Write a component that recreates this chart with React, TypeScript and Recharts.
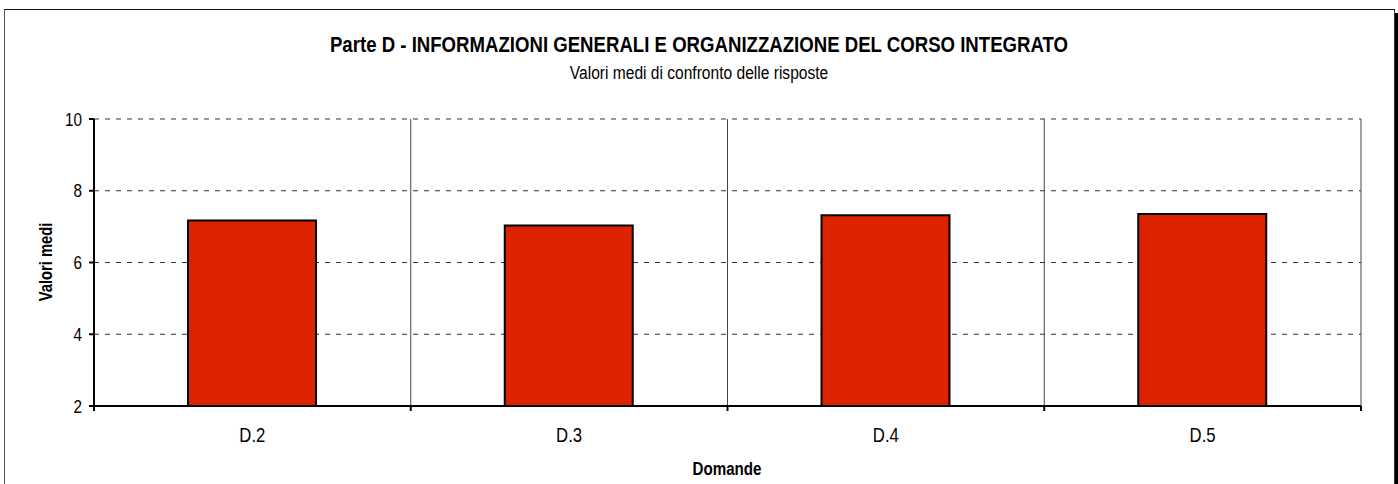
import React from "react";
import { BarChart, Bar, XAxis, YAxis, CartesianGrid } from "recharts";

const categories = ["D.2", "D.3", "D.4", "D.5"];
const values = [7.17, 7.03, 7.32, 7.35];
const yTicks = [2, 4, 6, 8, 10];
const boundaryTicks = [0, 1, 2, 3, 4];

const title = "Parte D - INFORMAZIONI GENERALI E ORGANIZZAZIONE DEL CORSO INTEGRATO";
const subtitle = "Valori medi di confronto delle risposte";
const yTitle = "Valori medi";
const xTitle = "Domande";

// pos = centre of each category slot on the auxiliary numeric axis (slot i spans [i, i+1])
const data = categories.map((c, i) => ({ cat: c, pos: i + 0.5, value: values[i] }));

const FONT = "'Liberation Sans', Arial, Helvetica, sans-serif";
const SX = 0.82;

const XTick = (props: any) => {
  const { x, y, payload } = props;
  return (
    <text
      transform={`translate(${x},${y + 35}) scale(${SX},1)`}
      textAnchor="middle"
      fontFamily={FONT}
      fontSize={20.4}
      fill="#000"
    >
      {payload.value}
    </text>
  );
};

const YTick = (props: any) => {
  const { x, y, payload } = props;
  return (
    <text
      transform={`translate(${x - 5},${y + 6.5}) scale(${SX},1)`}
      textAnchor="end"
      fontFamily={FONT}
      fontSize={18.6}
      fill="#000"
    >
      {payload.value}
    </text>
  );
};

export default function App() {
  return (
    <div style={{ position: "absolute", left: 0, top: 0, width: 1398, height: 484, background: "#fff", overflow: "hidden" }}>
      <div
        style={{
          position: "absolute",
          left: 4,
          top: 9,
          width: 1389,
          height: 490,
          borderTop: "1px solid #111",
          borderLeft: "1px solid #555",
          borderRight: "1px solid #333",
          boxShadow: "4px 4px 0 #000",
          background: "#fff",
        }}
      />
      <div style={{ position: "absolute", left: 0, top: 0 }}>
        <BarChart
          width={1398}
          height={484}
          data={data}
          margin={{ top: 119, right: 37, bottom: 0, left: 0 }}
        >
          <CartesianGrid
            xAxisId="aaa"
            yAxisId="y"
            horizontal={true}
            vertical={false}
            stroke="#333"
            strokeDasharray="5 6"
          />
          <CartesianGrid
            xAxisId="aaa"
            yAxisId="y"
            horizontal={false}
            vertical={true}
            stroke="#444"
          />
          <XAxis
            xAxisId="zzz"
            dataKey="cat"
            height={77}
            axisLine={false}
            tickLine={false}
            tickSize={0}
            tickMargin={0}
            tick={<XTick />}
            interval={0}
          />
          <XAxis
            xAxisId="aaa"
            dataKey="pos"
            type="number"
            domain={[0, 4]}
            ticks={boundaryTicks}
            height={1}
            tickSize={5}
            tickFormatter={() => ""}
            axisLine={{ stroke: "#000", strokeWidth: 2 }}
            tickLine={{ stroke: "#000", strokeWidth: 2 }}
            allowDataOverflow
          />
          <YAxis
            yAxisId="y"
            type="number"
            domain={[2, 10]}
            ticks={yTicks}
            width={94}
            tickSize={5}
            tickMargin={2}
            axisLine={{ stroke: "#000", strokeWidth: 2 }}
            tickLine={{ stroke: "#000", strokeWidth: 2 }}
            tick={<YTick />}
            allowDataOverflow
          />
          <Bar
            xAxisId="zzz"
            yAxisId="y"
            dataKey="value"
            fill="#dd2200"
            stroke="#000"
            strokeWidth={2}
            barSize={128}
            isAnimationActive={false}
          />
        </BarChart>
      </div>
      <svg width={1398} height={484} style={{ position: "absolute", left: 0, top: 0, pointerEvents: "none" }}>
        <text
          transform={`translate(699,52) scale(${SX},1)`}
          textAnchor="middle"
          fontFamily={FONT}
          fontWeight="bold"
          fontSize={22.7}
          fill="#000"
        >
          {title}
        </text>
        <text
          transform={`translate(699,79) scale(${SX},1)`}
          textAnchor="middle"
          fontFamily={FONT}
          fontSize={19}
          fill="#000"
        >
          {subtitle}
        </text>
        <text
          transform={`translate(52,262) rotate(-90) scale(${SX},1)`}
          textAnchor="middle"
          fontFamily={FONT}
          fontWeight="bold"
          fontSize={18}
          fill="#000"
        >
          {yTitle}
        </text>
        <text
          transform={`translate(727,475) scale(${SX},1)`}
          textAnchor="middle"
          fontFamily={FONT}
          fontWeight="bold"
          fontSize={18.5}
          fill="#000"
        >
          {xTitle}
        </text>
      </svg>
    </div>
  );
}
